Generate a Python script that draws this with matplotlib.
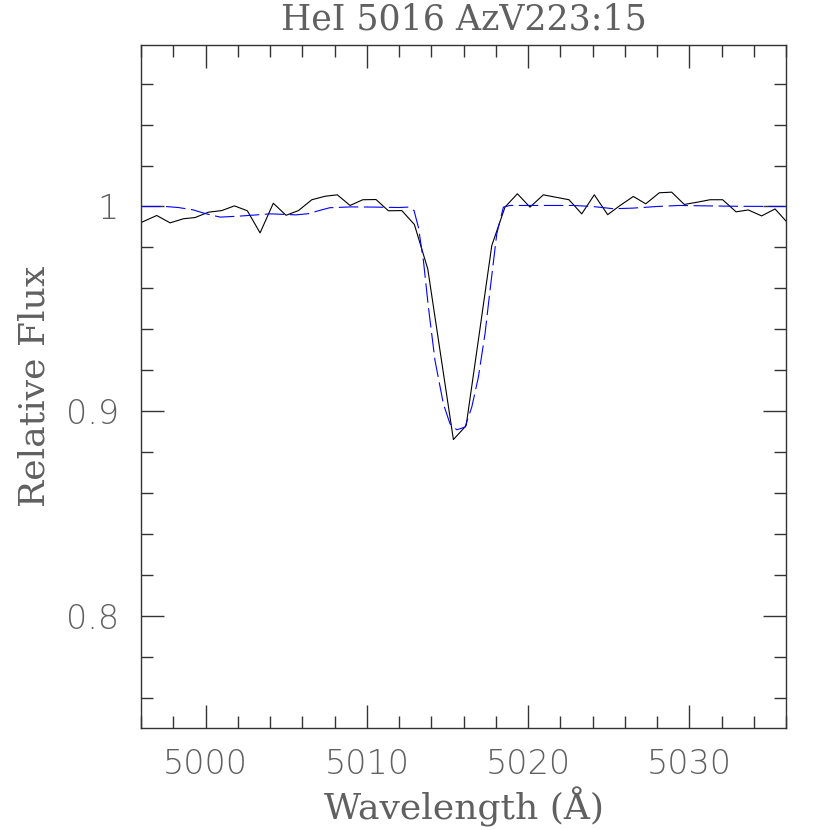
import matplotlib
matplotlib.use('Agg')
import matplotlib.pyplot as plt
from matplotlib.ticker import MultipleLocator, FuncFormatter

# observed spectrum (black)
obs_wave = [4996.04, 4996.97, 4997.80, 4998.62, 4999.35, 5000.17, 5001.00, 5001.79, 5002.59, 5003.38,
            5004.20, 5004.99, 5005.76, 5006.59, 5007.41, 5008.17, 5008.96, 5009.75, 5010.57, 5011.34,
            5012.17, 5012.95, 5013.78, 5014.57, 5015.37, 5016.16, 5016.96, 5017.75, 5018.57, 5019.34,
            5020.12, 5020.95, 5021.74, 5022.54, 5023.33, 5024.11, 5024.94, 5025.71, 5026.53, 5027.30,
            5028.14, 5028.91, 5029.69, 5030.50, 5031.29, 5032.07, 5032.90, 5033.66, 5034.49, 5035.32,
            5036.10]
obs_flux = [0.9923, 0.9956, 0.9920, 0.9940, 0.9946, 0.9972, 0.9980, 1.0003, 0.9979, 0.9871,
            1.0016, 0.9957, 0.9980, 1.0033, 1.0050, 1.0057, 1.0005, 1.0033, 1.0034, 0.9979,
            0.9980, 0.9912, 0.9695, 0.9280, 0.8861, 0.8929, 0.9370, 0.9809, 0.9997, 1.0062,
            0.9997, 1.0057, 1.0045, 1.0033, 0.9964, 1.0057, 0.9960, 1.0005, 1.0049, 1.0013,
            1.0067, 1.0070, 1.0010, 1.0021, 1.0033, 1.0033, 0.9974, 0.9983, 0.9954, 0.9988,
            0.9920]

# model (blue dashed)
mod_wave = [4996.0, 4997.5, 4998.3, 4999.2, 5000.0, 5000.9, 5002.1, 5003.0, 5004.0, 5005.0,
            5005.6, 5006.4, 5006.9, 5007.7, 5009.0, 5010.5, 5012.0, 5012.58, 5012.93, 5013.2,
            5013.51, 5013.82, 5014.23, 5014.75, 5015.16, 5015.58, 5016.09, 5016.51, 5016.92, 5017.33,
            5017.64, 5018.06, 5018.47, 5018.88, 5020.5, 5022.8, 5024.0, 5025.3, 5026.5, 5028.0,
            5029.4, 5031.0, 5033.0, 5036.0]
mod_flux = [1.0, 1.0, 0.9995, 0.9984, 0.9965, 0.9948, 0.9953, 0.9958, 0.9964, 0.9961,
            0.9959, 0.9965, 0.9977, 0.9994, 0.9998, 0.9997, 0.9995, 0.9997, 0.9980, 0.9898,
            0.9736, 0.9508, 0.9247, 0.9035, 0.8938, 0.8909, 0.8922, 0.9020, 0.9166, 0.9378,
            0.9589, 0.9866, 0.9997, 1.0005, 1.0005, 1.0005, 1.0000, 0.9989, 0.9992, 1.0000,
            1.0005, 1.0003, 1.0001, 1.0]

plt.rcParams['lines.scale_dashes'] = False
txt = '#606060'

fig = plt.figure(figsize=(8.3, 8.3), dpi=100)
ax = fig.add_axes([0.17, 0.1225, 0.777, 0.8235])

ax.plot(obs_wave, obs_flux, color='black', lw=0.8)
ax.plot(mod_wave, mod_flux, color='blue', lw=0.8, linestyle=(0, (14, 4)))

ax.set_xlim(4996, 5036)
ax.set_ylim(0.745, 1.079)

ax.xaxis.set_major_locator(MultipleLocator(10))
ax.xaxis.set_minor_locator(MultipleLocator(2))
ax.yaxis.set_major_locator(MultipleLocator(0.1))
ax.yaxis.set_minor_locator(MultipleLocator(0.02))
ax.yaxis.set_major_formatter(FuncFormatter(lambda v, p: '%g' % round(v, 2)))

ax.tick_params(which='both', direction='in', top=True, right=True, color='#333333', width=1)
ax.tick_params(which='major', length=16.5, labelsize=24, labelcolor=txt)
ax.tick_params(which='minor', length=8.5)
ax.tick_params(axis='x', pad=14)
ax.tick_params(axis='y', pad=16)
for lab in ax.get_xticklabels() + ax.get_yticklabels():
    lab.set_fontweight('light')
for s in ax.spines.values():
    s.set_color('#333333')
    s.set_linewidth(1)

ax.set_title('HeI 5016 AzV223:15', fontsize=25, family='DejaVu Serif', color=txt, pad=11)
ax.set_xlabel('Wavelength (Å)', fontsize=26, family='DejaVu Serif', color=txt, labelpad=4)
ax.set_ylabel('Relative Flux', fontsize=26, family='DejaVu Serif', color=txt, labelpad=10)

plt.savefig('out.png', dpi=100)
